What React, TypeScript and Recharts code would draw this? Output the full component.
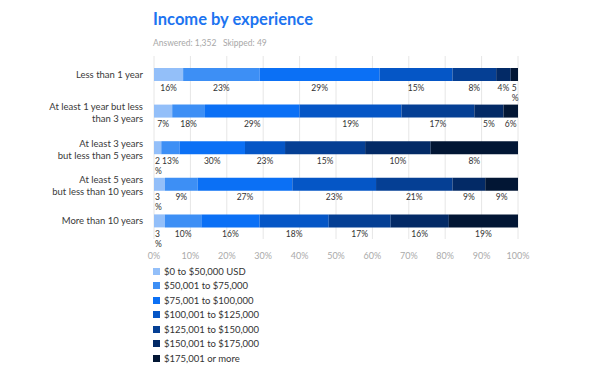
import { BarChart, Bar, XAxis, YAxis, CartesianGrid, LabelList } from 'recharts';

const experience = [
  'Less than 1 year',
  'At least 1 year but less\nthan 3 years',
  'At least 3 years\nbut less than 5 years',
  'At least 5 years\nbut less than 10 years',
  'More than 10 years',
];

const bands = [
  '$0 to $50,000 USD',
  '$50,001 to $75,000',
  '$75,001 to $100,000',
  '$100,001 to $125,000',
  '$125,001 to $150,000',
  '$150,001 to $175,000',
  '$175,001 or more',
];

const colors = ['#93bff9', '#3d8ff5', '#0b70f5', '#0556c6', '#053f94', '#032a66', '#021634'];

// segment widths (% of each bar), one array per income band
const under50k = [8, 5, 2, 3, 3];
const from50k = [21, 9, 5, 9, 10];
const from75k = [33, 26, 18, 26, 16];
const from100k = [20, 28, 11, 23, 19];
const from125k = [12, 20, 22, 21, 17];
const from150k = [4, 8, 18, 9, 16];
const over175k = [2, 4, 24, 9, 19];

// percentages printed under each segment
const under50kText = [16, 7, 2, 3, 3];
const from50kText = [23, 18, 13, 9, 10];
const from75kText = [29, 29, 30, 27, 16];
const from100kText = [15, 19, 23, 23, 18];
const from125kText = [8, 17, 15, 21, 17];
const from150kText = [4, 5, 10, 9, 16];
const over175kText = [5, 6, 8, 9, 19];

const xTicks = [0, 10, 20, 30, 40, 50, 60, 70, 80, 90, 100];

const shares = [under50k, from50k, from75k, from100k, from125k, from150k, over175k];
const printed = [under50kText, from50kText, from75kText, from100kText, from125kText, from150kText, over175kText];

const rows = experience.map((name, i) => {
  const row: any = { name };
  shares.forEach((s, k) => {
    row[`s${k}`] = s[i];
    row[`t${k}`] = printed[k][i];
  });
  return row;
});

const FONT = 'Lato, "Open Sans", sans-serif';

function CategoryTick({ x, y, payload }: any) {
  const lines = String(payload.value).split('\n');
  const lh = 12;
  const first = y + 3.5 - ((lines.length - 1) * lh) / 2 + (lines.length > 1 ? 1.5 : 0);
  return (
    <text x={x} y={first} textAnchor="end" fill="#3a3a3a" fontSize={9.5} fontFamily={FONT}>
      {lines.map((l, i) => (
        <tspan key={i} x={x} dy={i === 0 ? 0 : lh}>{l}</tspan>
      ))}
    </text>
  );
}

function SegLabel(props: any) {
  const { x, y, width, height, value } = props;
  const base = y + height + 9.5;
  if (width < 13) {
    return (
      <text x={x + 1} y={base} fill="#333" fontSize={8.5} fontFamily={FONT}>
        <tspan x={x + 1}>{value}</tspan>
        <tspan x={x + 1} dy={10}>%</tspan>
      </text>
    );
  }
  return (
    <text x={x + width / 2} y={base} textAnchor="middle" fill="#333" fontSize={8.5} fontFamily={FONT}>
      {value}%
    </text>
  );
}

export default function App() {
  return (
    <div style={{ position: 'relative', width: 596, height: 377, background: '#fff', fontFamily: FONT }}>
      <style>{'body{margin:0}'}</style>
      <div style={{ position: 'absolute', left: 153, top: 9, fontSize: 16.5, fontWeight: 700, color: '#1d74f0' }}>
        Income by experience
      </div>
      <div style={{ position: 'absolute', left: 153, top: 38, fontSize: 8.5, color: '#a8a8a8' }}>
        Answered: 1,352&nbsp;&nbsp;&nbsp;Skipped: 49
      </div>
      <div style={{ position: 'absolute', left: 0, top: 0 }}>
        <BarChart
          width={596}
          height={377}
          data={rows}
          layout="vertical"
          margin={{ top: 56, right: 78, bottom: 118, left: 4 }}
          barSize={13}
        >
          <CartesianGrid horizontal={false} stroke="#e6e6e6" />
          <XAxis
            type="number"
            domain={[0, 100]}
            ticks={xTicks}
            tickFormatter={(v) => `${v}%`}
            axisLine={false}
            tickLine={false}
            tickMargin={8}
            tick={{ fill: '#aaa', fontSize: 9, fontFamily: FONT }}
            interval={0}
            height={20}
          />
          <YAxis
            type="category"
            dataKey="name"
            width={150}
            axisLine={false}
            tickLine={false}
            tickMargin={5}
            tick={<CategoryTick />}
            interval={0}
          />
          {bands.map((b, k) => (
            <Bar key={b} dataKey={`s${k}`} name={b} stackId="a" fill={colors[k]} isAnimationActive={false}>
              <LabelList dataKey={`t${k}`} content={<SegLabel />} />
            </Bar>
          ))}
        </BarChart>
      </div>
      <div style={{ position: 'absolute', left: 153, top: 264, fontSize: 9.5, color: '#333' }}>
        {bands.map((b, k) => (
          <div key={b} style={{ display: 'flex', alignItems: 'center', height: 14.5 }}>
            <span style={{ width: 7, height: 7, background: colors[k], marginRight: 4, display: 'inline-block' }} />
            {b}
          </div>
        ))}
      </div>
    </div>
  );
}
